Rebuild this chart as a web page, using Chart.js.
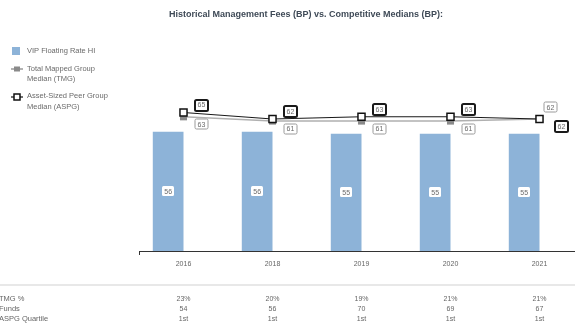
<!DOCTYPE html>
<html>
<head>
<meta charset="utf-8">
<script src="https://cdn.jsdelivr.net/npm/chart.js@4"></script>
<style>
html,body{margin:0;padding:0;overflow:hidden;background:#fff;width:575px;height:326px;}
#c{position:absolute;left:0;top:0;}
</style>
</head>
<body>
<canvas id="c" width="584" height="326"></canvas>
<script>
const titleText = 'Historical Management Fees (BP) vs. Competitive Medians (BP):';
const categories = ['2016', '2018', '2019', '2020', '2021'];
const vipFees = [56, 56, 55, 55, 55];
const tmgMedian = [63, 61, 61, 61, 62];
const aspgMedian = [65, 62, 63, 63, 62];
const seriesNames = ['VIP Floating Rate HI', 'Total Mapped Group Median (TMG)', 'Asset-Sized Peer Group Median (ASPG)'];
const legendLines = [['VIP Floating Rate HI'], ['Total Mapped Group', 'Median (TMG)'], ['Asset-Sized Peer Group', 'Median (ASPG)']];
const tableRowLabels = ['TMG %', 'Funds', 'ASPG Quartile'];
const tmgPct = ['23%', '20%', '19%', '21%', '21%'];
const fundCounts = ['54', '56', '70', '69', '67'];
const aspgQuartile = ['1st', '1st', '1st', '1st', '1st'];

const FONT = "'Liberation Sans', Arial, sans-serif";
const BAR_COLOR = '#8db3d8';

function labelBox(ctx, cx, cy, text, border, bw, w, h) {
  ctx.save();
  ctx.font = '7px ' + FONT;
  const tw = ctx.measureText(text).width;
  const bwid = w || Math.max(12, tw + 5);
  const bh = h || 11;
  const x = Math.round(cx - bwid / 2), y = Math.round(cy - bh / 2);
  ctx.beginPath();
  if (ctx.roundRect) ctx.roundRect(x, y, bwid, bh, 1.5); else ctx.rect(x, y, bwid, bh);
  ctx.fillStyle = '#fff';
  ctx.fill();
  if (bw > 0) {
    ctx.lineWidth = bw;
    ctx.strokeStyle = border;
    ctx.stroke();
  }
  ctx.fillStyle = '#6a6a6a';
  ctx.textAlign = 'center';
  ctx.textBaseline = 'middle';
  ctx.fillText(text, cx, cy + 0.5);
  ctx.restore();
}

const decorPlugin = {
  id: 'decor',
  afterDatasetsDraw(chart) {
    const ctx = chart.ctx;
    const barMeta = chart.getDatasetMeta(0);
    barMeta.data.forEach((el, i) => {
      const cy = (el.y + el.base) / 2;
      labelBox(ctx, el.x, cy, String(vipFees[i]), '#ddd', 0, 12, 10);
    });
    const tmgMeta = chart.getDatasetMeta(2);
    const aspgMeta = chart.getDatasetMeta(3);
    const last = categories.length - 1;
    tmgMeta.data.forEach((el, i) => {
      const dx = i === last ? 11 : 18;
      const dy = i === last ? -11.5 : 7.5;
      labelBox(ctx, el.x + dx, el.y + dy, String(tmgMedian[i]), '#9a9a9a', 1, 13, 10);
    });
    aspgMeta.data.forEach((el, i) => {
      const dx = i === last ? 22 : 18;
      const dy = i === last ? 7.5 : -7.5;
      labelBox(ctx, el.x + dx, el.y + dy, String(aspgMedian[i]), '#1a1a1a', 2, 13, 11);
    });
  },
  afterDraw(chart) {
    const ctx = chart.ctx;
    ctx.save();
    ctx.font = 'bold 9px ' + FONT;
    ctx.fillStyle = '#3f4a57';
    ctx.textAlign = 'center';
    ctx.textBaseline = 'middle';
    ctx.fillText(titleText, 306, 15);

    ctx.font = '7.5px ' + FONT;
    ctx.textAlign = 'left';
    const legY = [[51], [69, 79], [96, 107]];
    legendLines.forEach((lines, k) => {
      lines.forEach((t, j) => {
        ctx.fillStyle = '#6a6a6a';
        ctx.fillText(t, 27, legY[k][j]);
      });
    });
    ctx.fillStyle = BAR_COLOR;
    ctx.fillRect(12, 47, 8, 8);
    ctx.strokeStyle = '#9a9a9a';
    ctx.lineWidth = 1.5;
    ctx.beginPath(); ctx.moveTo(11, 69); ctx.lineTo(23, 69); ctx.stroke();
    ctx.fillStyle = '#8a8a8a';
    ctx.fillRect(14, 66.5, 6, 5);
    ctx.strokeStyle = '#111';
    ctx.lineWidth = 1.2;
    ctx.beginPath(); ctx.moveTo(11, 97); ctx.lineTo(23, 97); ctx.stroke();
    ctx.fillStyle = '#fff';
    ctx.lineWidth = 1.5;
    ctx.fillRect(14, 94, 6, 6);
    ctx.strokeRect(14, 94, 6, 6);

    ctx.strokeStyle = '#e8e8e8';
    ctx.lineWidth = 2;
    ctx.beginPath(); ctx.moveTo(0, 285); ctx.lineTo(575, 285); ctx.stroke();

    const rows = [tmgPct, fundCounts, aspgQuartile];
    const rowY = [299, 309, 319];
    ctx.font = '7.5px ' + FONT;
    ctx.fillStyle = '#666';
    ctx.textAlign = 'left';
    tableRowLabels.forEach((t, r) => ctx.fillText(t, -1, rowY[r]));
    ctx.font = '7px ' + FONT;
    ctx.textAlign = 'center';
    const xs = chart.scales.x;
    rows.forEach((row, r) => {
      row.forEach((v, i) => {
        ctx.fillText(v, xs.getPixelForValue(i), rowY[r]);
      });
    });
    ctx.restore();
  }
};

new Chart(document.getElementById('c'), {
  type: 'bar',
  data: {
    labels: categories,
    datasets: [
      {
        label: seriesNames[0],
        data: vipFees,
        backgroundColor: BAR_COLOR,
        categoryPercentage: 0.69,
        barPercentage: 1.0,
        order: 3
      },
      {
        label: 'spacer',
        data: categories.map(() => null),
        backgroundColor: 'rgba(0,0,0,0)',
        categoryPercentage: 0.69,
        barPercentage: 1.0,
        order: 4
      },
      {
        type: 'line',
        label: seriesNames[1],
        data: tmgMedian,
        borderColor: '#b0b0b0',
        borderWidth: 1.5,
        pointStyle: 'rect',
        pointRadius: 5,
        pointBackgroundColor: '#8a8a8a',
        pointBorderColor: '#8a8a8a',
        pointBorderWidth: 0,
        tension: 0,
        order: 2
      },
      {
        type: 'line',
        label: seriesNames[2],
        data: aspgMedian,
        borderColor: '#1a1a1a',
        borderWidth: 1.1,
        pointStyle: 'rect',
        pointRadius: 5,
        pointBackgroundColor: '#ffffff',
        pointBorderColor: '#111',
        pointBorderWidth: 1.5,
        tension: 0,
        order: 1
      }
    ]
  },
  options: {
    responsive: false,
    animation: false,
    devicePixelRatio: 1,
    layout: { autoPadding: false, padding: { left: 139, top: 38, right: 0, bottom: 0 } },
    plugins: { legend: { display: false }, tooltip: { enabled: false }, title: { display: false } },
    scales: {
      x: {
        offset: true,
        border: { display: true, color: '#333', width: 1 },
        grid: {
          display: true,
          drawOnChartArea: false,
          drawTicks: true,
          tickLength: 4,
          offset: true,
          color: (c) => (c.index === 0 ? '#333' : 'rgba(0,0,0,0)')
        },
        ticks: { font: { family: FONT, size: 7 }, color: '#666', padding: 5, maxRotation: 0 },
        afterFit: (s) => { s.height = 75; s.paddingLeft = 0; s.paddingRight = 0; }
      },
      y: { display: false, min: 0, max: 100 }
    }
  },
  plugins: [decorPlugin]
});
</script>
</body>
</html>
